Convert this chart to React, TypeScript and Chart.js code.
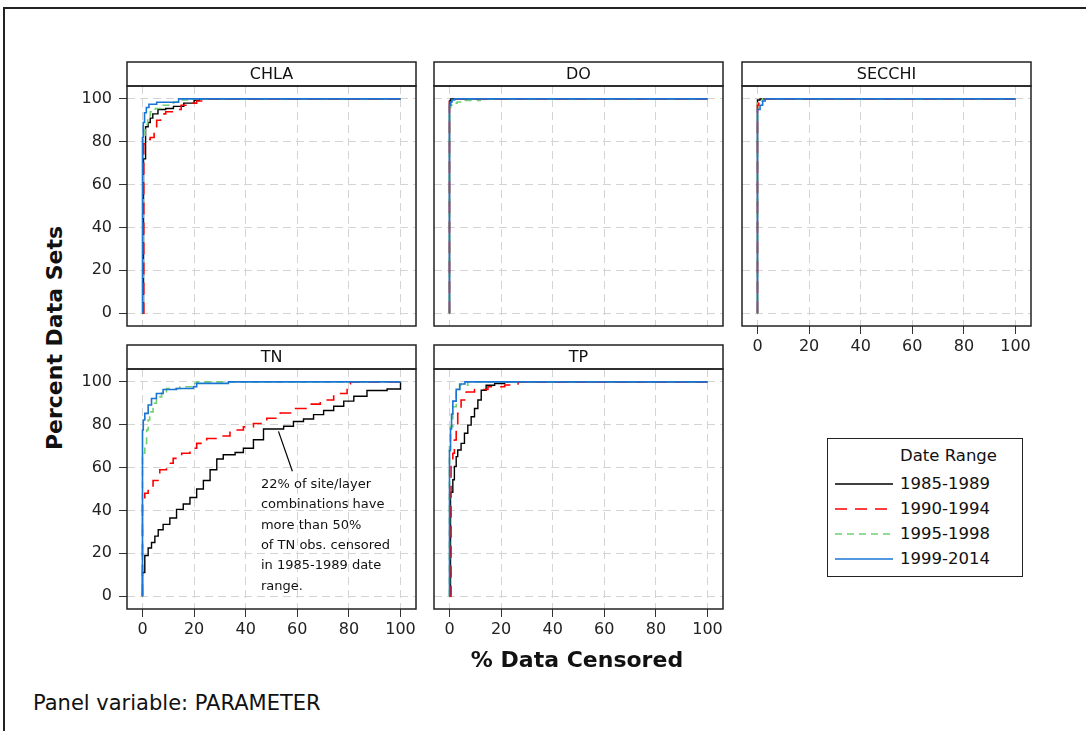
import React, { useEffect, useRef } from "react";
import { Chart, registerables } from "chart.js";

Chart.register(...registerables);

// ---------------- data ----------------
const SERIES_LABELS = ["1985-1989", "1990-1994", "1995-1998", "1999-2014"];
const AXIS_TICKS = [0, 20, 40, 60, 80, 100];

type Pt = [number, number];

const CHLA_1985: Pt[] = [[0, 0], [0.4, 72], [1.2, 87], [2.2, 89], [3, 91], [4, 93], [6, 95], [9, 95.5], [12, 96.5], [16, 98], [20, 99.3], [22, 100], [100, 100]];
const CHLA_1990: Pt[] = [[0, 0], [0.5, 79], [1.5, 81], [3, 82], [4.5, 87], [5.5, 90], [7, 93], [9, 94], [12, 95], [15, 97], [18, 98], [21, 99], [25, 100], [100, 100]];
const CHLA_1995: Pt[] = [[0, 0], [0.3, 83], [1, 88], [2, 92], [3, 94], [5, 95.5], [8, 97], [12, 98.5], [15, 99.5], [18, 100], [100, 100]];
const CHLA_1999: Pt[] = [[0, 0], [0, 82], [0.3, 89], [0.8, 93.5], [1.5, 96], [2.5, 97.5], [5.5, 98.4], [14, 100], [100, 100]];

const DO_1985: Pt[] = [[0, 0], [0, 99], [0.5, 100], [100, 100]];
const DO_1990: Pt[] = [[0, 0], [0, 98.5], [0.7, 99.5], [2, 100], [100, 100]];
const DO_1995: Pt[] = [[0, 0], [0, 96], [0.5, 97], [1.5, 98], [3, 98.5], [6, 99.3], [12, 100], [100, 100]];
const DO_1999: Pt[] = [[0, 0], [0, 97], [0.5, 98.5], [1, 99.5], [2, 100], [100, 100]];

const SECCHI_1985: Pt[] = [[0, 0], [0, 99.5], [1, 100], [100, 100]];
const SECCHI_1990: Pt[] = [[0, 0], [0, 97], [0.5, 99], [1.5, 100], [100, 100]];
const SECCHI_1995: Pt[] = [[0, 0], [0, 98], [0.5, 99], [2, 100], [100, 100]];
const SECCHI_1999: Pt[] = [[0, 0], [0, 95], [1, 97], [2, 99], [3, 100], [100, 100]];

const TN_1985: Pt[] = [[0, 0], [0, 11], [0.9, 19], [2.2, 22.5], [3.5, 25], [4.8, 28], [6.1, 31], [8, 33.5], [10.6, 36.5], [13.2, 40.5], [15.8, 43], [18.4, 46], [21, 50], [23.6, 54], [26.2, 59], [28.8, 64], [31.3, 66], [35.9, 67], [39.1, 69], [43, 73], [46.9, 78], [53.4, 78], [54.7, 79.3], [58.5, 81.5], [62.4, 82.7], [66.3, 84.7], [70.2, 86.6], [74.1, 88.6], [78, 91], [81.9, 93.3], [87, 96], [94.8, 96.7], [100, 98], [100, 100]];
const TN_1990: Pt[] = [[0, 0], [0, 45], [0.9, 48], [2.2, 51], [4.1, 54], [6.7, 59], [9.3, 62], [11.9, 64.3], [15.2, 66.7], [18.4, 69], [21, 71.3], [24.9, 73.6], [30.1, 74.7], [33.9, 77.5], [39.1, 79], [43, 80.6], [48.2, 83], [53.4, 85.5], [58.5, 87.6], [65, 89.6], [68.9, 91.5], [74.1, 94.6], [79.3, 99], [80.6, 100], [100, 100]];
const TN_1995: Pt[] = [[0, 0], [0, 66.7], [0.9, 71.3], [1.6, 77.5], [2.2, 82.2], [2.8, 86], [4.1, 90], [5.4, 93], [7.4, 95.3], [9.3, 96.9], [14.5, 97.7], [19.7, 99.3], [21, 100], [100, 100]];
const TN_1999: Pt[] = [[0, 0], [0, 77.5], [0.3, 82.2], [0.9, 85.3], [2.2, 89.2], [3.5, 92.2], [5.4, 94.6], [8, 96.4], [13.2, 96.9], [19.7, 97.7], [21, 99.3], [33.3, 100], [100, 100]];

const TP_1985: Pt[] = [[0, 0], [0.4, 48.5], [1.3, 54.3], [1.9, 60.5], [2.6, 65.1], [3.2, 68.2], [4.5, 71.3], [5.8, 76], [7.1, 79.8], [8.4, 83.7], [9.7, 87.6], [11, 91.5], [12.3, 96.1], [14.2, 98.4], [17.5, 99.2], [21.4, 100], [100, 100]];
const TP_1990: Pt[] = [[0, 0], [0.6, 60.5], [1.3, 66.7], [1.9, 72.9], [2.6, 79.1], [3.2, 85.3], [4.5, 91.5], [6.5, 95.3], [9.7, 96.4], [14.9, 97.7], [21.4, 98.5], [26.6, 100], [100, 100]];
const TP_1995: Pt[] = [[0, 0], [0, 69.8], [0.4, 79.1], [1.3, 88.4], [2.6, 96.1], [3.9, 98.4], [7.1, 100], [100, 100]];
const TP_1999: Pt[] = [[0, 0], [0, 68], [0.4, 78], [0.8, 85], [1.3, 91], [2.6, 96.5], [4, 99], [6, 100], [100, 100]];

// leader line of the TN note (data coordinates)
const TN_NOTE_LEADER: Pt[] = [[52.7, 76.9], [58.1, 58.3]];
const TN_NOTE_LINES = [
  "22% of site/layer",
  "combinations have",
  "more than 50%",
  "of TN obs. censored",
  "in 1985-1989 date",
  "range.",
];
const TN_NOTE_ANCHOR: Pt = [45.9, 52.1];

// ---------------- styles ----------------
const FONT = '"DejaVu Sans", Verdana, sans-serif';
const COLORS = ["#000000", "#ff0000", "#72d072", "#1a74d4"];
const DASHES: number[][] = [[], [12, 8], [7, 5], []];
const WIDTHS = [1.4, 1.6, 1.6, 1.6];
const ORDERS = [3, 1, 2, 0];

const PLOT_W = 289;
const PLOT_H = 240;
const HEADER_H = 24;
const PAD = 3;
const Y_AXIS_W = 50;
const X_AXIS_H = 40;

type PanelCfg = {
  name: string;
  left: number;
  top: number;
  series: Pt[][];
  xTicks: boolean;
  yTicks: boolean;
  note?: boolean;
};

const PANELS: PanelCfg[] = [
  { name: "CHLA", left: 127, top: 62, series: [CHLA_1985, CHLA_1990, CHLA_1995, CHLA_1999], xTicks: false, yTicks: true },
  { name: "DO", left: 434, top: 62, series: [DO_1985, DO_1990, DO_1995, DO_1999], xTicks: false, yTicks: false },
  { name: "SECCHI", left: 742, top: 62, series: [SECCHI_1985, SECCHI_1990, SECCHI_1995, SECCHI_1999], xTicks: true, yTicks: false },
  { name: "TN", left: 127, top: 345, series: [TN_1985, TN_1990, TN_1995, TN_1999], xTicks: true, yTicks: true, note: true },
  { name: "TP", left: 434, top: 345, series: [TP_1985, TP_1990, TP_1995, TP_1999], xTicks: true, yTicks: false },
];

const framePlugin = {
  id: "panelFrame",
  afterDraw(chart: any, _args: any, opts: any) {
    const { ctx, chartArea: a } = chart;
    ctx.save();
    ctx.lineWidth = 1.5;
    ctx.strokeStyle = "#222";
    ctx.strokeRect(a.left, a.top, a.right - a.left, a.bottom - a.top);
    ctx.strokeRect(a.left, a.top - HEADER_H, a.right - a.left, HEADER_H);
    ctx.fillStyle = "#111";
    ctx.font = `16px ${FONT}`;
    ctx.textAlign = "center";
    ctx.textBaseline = "middle";
    ctx.fillText(opts.title, (a.left + a.right) / 2, a.top - HEADER_H / 2 + 1);
    if (opts.note) {
      const xs = chart.scales.x;
      const ys = chart.scales.y;
      const x0 = xs.getPixelForValue(TN_NOTE_ANCHOR[0]);
      const y0 = ys.getPixelForValue(TN_NOTE_ANCHOR[1]);
      ctx.font = `13px ${FONT}`;
      ctx.textAlign = "left";
      TN_NOTE_LINES.forEach((line, i) => {
        ctx.fillText(line, x0, y0 + i * 20.4);
      });
    }
    ctx.restore();
  },
};

function Panel({ cfg }: { cfg: PanelCfg }) {
  const ref = useRef<HTMLCanvasElement>(null);
  const yw = cfg.yTicks ? Y_AXIS_W : 0;
  const xh = cfg.xTicks ? X_AXIS_H : 0;
  const cw = PAD + yw + PLOT_W + PAD;
  const ch = PAD + HEADER_H + PLOT_H + xh + PAD;

  useEffect(() => {
    if (!ref.current) return;
    const datasets: any[] = cfg.series.map((pts, i) => ({
      label: SERIES_LABELS[i],
      data: pts.map(([x, y]) => ({ x, y })),
      borderColor: COLORS[i],
      borderDash: DASHES[i],
      borderWidth: WIDTHS[i],
      stepped: "before",
      pointRadius: 0,
      fill: false,
      tension: 0,
      order: ORDERS[i],
    }));
    if (cfg.note) {
      datasets.push({
        label: "note",
        data: TN_NOTE_LEADER.map(([x, y]) => ({ x, y })),
        borderColor: "#000",
        borderWidth: 1.2,
        pointRadius: 0,
        fill: false,
        order: -1,
      });
    }
    const tickFont = { family: FONT, size: 16 };
    const grid = (show: boolean) => ({
      color: "#d4d4d4",
      lineWidth: 1,
      drawTicks: show,
      tickLength: 8,
      tickColor: "#333",
      tickWidth: 1,
    });
    const chart = new Chart(ref.current, {
      type: "line",
      data: { datasets },
      options: {
        animation: false,
        responsive: false,
        maintainAspectRatio: false,
        events: [],
        layout: {
          autoPadding: false,
          padding: { left: PAD, right: PAD, top: PAD + HEADER_H, bottom: PAD },
        },
        plugins: {
          legend: { display: false },
          tooltip: { enabled: false },
          title: { display: false },
          panelFrame: { title: cfg.name, note: !!cfg.note },
        } as any,
        scales: {
          x: {
            type: "linear",
            min: -6,
            max: 106,
            afterBuildTicks: (s: any) => {
              s.ticks = AXIS_TICKS.map((v) => ({ value: v }));
            },
            afterFit: (s: any) => {
              s.height = xh;
              s.paddingLeft = 0;
              s.paddingRight = 0;
              s.paddingTop = 0;
              s.paddingBottom = 0;
            },
            grid: grid(cfg.xTicks),
            border: { display: false, dash: [8, 5] },
            ticks: {
              display: cfg.xTicks,
              font: tickFont,
              color: "#222",
              padding: 3,
              maxRotation: 0,
              autoSkip: false,
              callback: (v: any) => String(v),
            },
          },
          y: {
            type: "linear",
            min: -6,
            max: 106,
            afterBuildTicks: (s: any) => {
              s.ticks = AXIS_TICKS.map((v) => ({ value: v }));
            },
            afterFit: (s: any) => {
              s.width = yw;
              s.paddingLeft = 0;
              s.paddingRight = 0;
              s.paddingTop = 0;
              s.paddingBottom = 0;
            },
            grid: grid(cfg.yTicks),
            border: { display: false, dash: [8, 5] },
            ticks: {
              display: cfg.yTicks,
              font: tickFont,
              color: "#222",
              padding: 7,
              autoSkip: false,
              callback: (v: any) => String(v),
            },
          },
        },
      } as any,
      plugins: [framePlugin],
    });
    return () => chart.destroy();
  }, []);

  return (
    <canvas
      ref={ref}
      width={cw}
      height={ch}
      style={{
        position: "absolute",
        left: cfg.left - PAD - yw,
        top: cfg.top - PAD,
        width: cw,
        height: ch,
        display: "block",
      }}
    />
  );
}

function LegendSample({ i }: { i: number }) {
  return (
    <svg width={58} height={6} style={{ display: "block" }}>
      <line
        x1={0}
        y1={3}
        x2={58}
        y2={3}
        stroke={COLORS[i]}
        strokeWidth={WIDTHS[i]}
        strokeDasharray={DASHES[i].length ? DASHES[i].join(" ") : undefined}
      />
    </svg>
  );
}

export default function App() {
  const legendRows = [45, 70, 95, 120];
  return (
    <div
      style={{
        position: "absolute",
        left: 0,
        top: 0,
        width: 1086,
        height: 731,
        overflow: "hidden",
        background: "#fff",
        fontFamily: FONT,
        color: "#111",
      }}
    >
      <div
        style={{
          position: "absolute",
          left: 3,
          top: 7,
          width: 1200,
          height: 900,
          borderTop: "2px solid #222",
          borderLeft: "2px solid #222",
        }}
      />
      {PANELS.map((p) => (
        <Panel key={p.name} cfg={p} />
      ))}

      <div
        style={{
          position: "absolute",
          left: 55,
          top: 338,
          transform: "translate(-50%, -50%) rotate(-90deg)",
          whiteSpace: "nowrap",
          fontWeight: "bold",
          fontSize: 22,
          lineHeight: "26px",
        }}
      >
        Percent Data Sets
      </div>
      <div
        style={{
          position: "absolute",
          left: 577,
          top: 660,
          transform: "translate(-50%, -50%)",
          whiteSpace: "nowrap",
          fontWeight: "bold",
          fontSize: 22,
          lineHeight: "26px",
        }}
      >
        % Data Censored
      </div>
      <div
        style={{
          position: "absolute",
          left: 33,
          top: 703,
          transform: "translateY(-50%)",
          whiteSpace: "nowrap",
          fontSize: 21,
          lineHeight: "24px",
        }}
      >
        Panel variable: PARAMETER
      </div>

      <div
        style={{
          position: "absolute",
          left: 827,
          top: 438,
          width: 196,
          height: 139,
          border: "1.5px solid #222",
          boxSizing: "border-box",
          fontSize: 16.5,
        }}
      >
        <div style={{ position: "absolute", left: 72, top: 17, transform: "translateY(-50%)", whiteSpace: "nowrap", lineHeight: "20px" }}>
          Date Range
        </div>
        {SERIES_LABELS.map((lab, i) => (
          <React.Fragment key={lab}>
            <div style={{ position: "absolute", left: 7, top: legendRows[i] - 3 }}>
              <LegendSample i={i} />
            </div>
            <div
              style={{
                position: "absolute",
                left: 72,
                top: legendRows[i],
                transform: "translateY(-50%)",
                whiteSpace: "nowrap",
                lineHeight: "20px",
              }}
            >
              {lab}
            </div>
          </React.Fragment>
        ))}
      </div>
    </div>
  );
}
